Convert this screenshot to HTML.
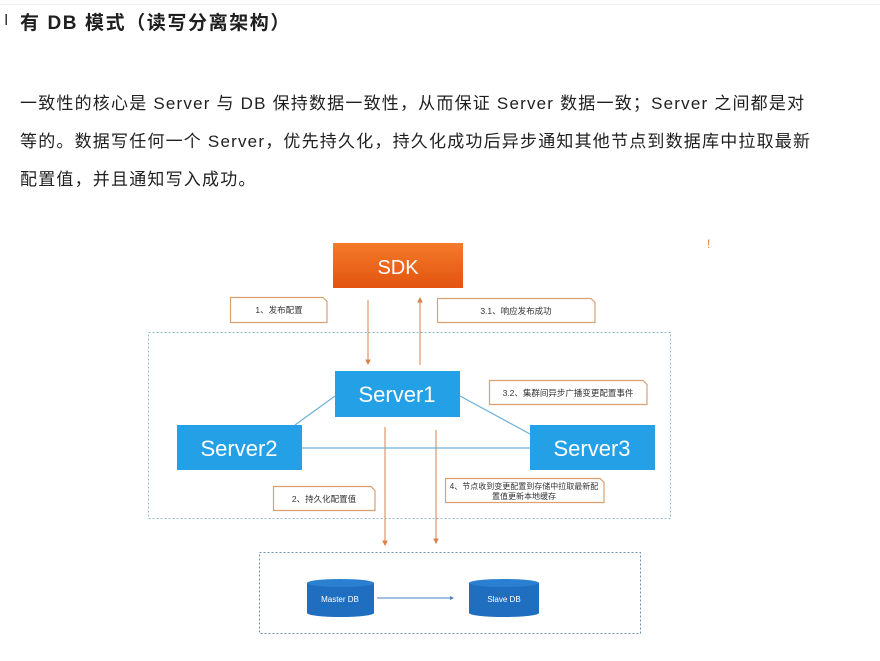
<!DOCTYPE html>
<html><head><meta charset="utf-8"><style>
body{margin:0;width:880px;height:661px;background:#fff;position:relative;overflow:hidden;font-family:"Liberation Sans","Noto Sans CJK SC",sans-serif;color:#1f1f1f}
.t{position:absolute;white-space:nowrap}
.p{font-size:17px;letter-spacing:1.2px;left:20px}
</style></head><body>
<div style="position:absolute;left:0;top:4px;width:880px;height:1px;background:#eee"></div>
<div class="t" style="left:4px;top:12px;font-size:16px;color:#333">I</div>
<div class="t" style="left:20px;top:8px;font-size:19px;font-weight:bold;letter-spacing:1.6px">有 DB 模式（读写分离架构）</div>
<div class="t p" style="top:89px">一致性的核心是 Server 与 DB 保持数据一致性，从而保证 Server 数据一致；Server 之间都是对</div>
<div class="t p" style="top:127px">等的。数据写任何一个 Server，优先持久化，持久化成功后异步通知其他节点到数据库中拉取最新</div>
<div class="t p" style="top:165px">配置值，并且通知写入成功。</div>
<svg width="880" height="661" style="position:absolute;left:0;top:0" font-family="Liberation Sans,Noto Sans CJK SC,sans-serif">
<defs><linearGradient id="o" x1="0" y1="0" x2="0" y2="1"><stop offset="0" stop-color="#f47a2a"/><stop offset="1" stop-color="#e2540f"/></linearGradient></defs>
<text x="707" y="248" fill="#f08030" font-size="12">!</text>
<rect x="148.5" y="332.5" width="522" height="186" fill="none" stroke="#8fc2d8" stroke-dasharray="2,2"/>
<rect x="259.5" y="552.5" width="381" height="81" fill="none" stroke="#6f8fb0" stroke-dasharray="2,2"/>
<rect x="333" y="243" width="130" height="45" fill="url(#o)"/>
<text x="398" y="274" fill="#fff" font-size="20" text-anchor="middle">SDK</text>
<g fill="#fff" stroke="#d9a070" stroke-width="1.2">
<path d="M230.5 297.5H323l4 4V322.5H230.5Z"/>
<path d="M437.5 298.5H591l4 4V322.5H437.5Z"/>
<path d="M489.5 380.5H643l4 4V404.5H489.5Z"/>
<path d="M273.5 486.5H371l4 4V510.5H273.5Z"/>
<path d="M445.5 478.5H600l4 4V502.5H445.5Z"/>
</g>
<g font-size="8.5" fill="#333" text-anchor="middle">
<text x="279" y="313">1、发布配置</text>
<text x="516" y="314">3.1、响应发布成功</text>
<text x="568" y="396">3.2、集群间异步广播变更配置事件</text>
<text x="324" y="502">2、持久化配置值</text>
</g>
<g font-size="8" fill="#333" text-anchor="middle">
<text x="524" y="489">4、节点收到变更配置到存储中拉取最新配</text>
<text x="524" y="499">置值更新本地缓存</text>
</g>
<g stroke="#d9824a" stroke-width="1" fill="#d9824a">
<line x1="368" y1="300" x2="368" y2="362"/><path d="M366 360h4l-2 4z"/>
<line x1="420" y1="302" x2="420" y2="365"/><path d="M418 302h4l-2 -4z"/>
<line x1="385" y1="427" x2="385" y2="542"/><path d="M383 541h4l-2 4z"/>
<line x1="436" y1="430" x2="436" y2="540"/><path d="M434 539h4l-2 4z"/>
</g>
<g stroke="#6fb0d8" stroke-width="1.2">
<line x1="335" y1="396" x2="295" y2="425"/>
<line x1="460" y1="396" x2="530" y2="434"/>
<line x1="302" y1="448" x2="530" y2="448"/>
</g>
<rect x="335" y="371" width="125" height="46" fill="#24a0e6"/>
<rect x="177" y="425" width="125" height="45" fill="#24a0e6"/>
<rect x="530" y="425" width="125" height="45" fill="#24a0e6"/>
<g fill="#fff" font-size="22" text-anchor="middle">
<text x="397" y="402">Server1</text>
<text x="239" y="456">Server2</text>
<text x="592" y="456">Server3</text>
</g>
<g fill="#1f6ec0">
<rect x="307" y="583" width="67" height="30"/><ellipse cx="340.5" cy="613" rx="33.5" ry="4"/><ellipse cx="340.5" cy="583" rx="33.5" ry="4" fill="#2a7fd0"/>
<rect x="469" y="583" width="70" height="30"/><ellipse cx="504" cy="613" rx="35" ry="4"/><ellipse cx="504" cy="583" rx="35" ry="4" fill="#2a7fd0"/>
</g>
<g fill="#fff" font-size="8" text-anchor="middle"><text x="340" y="602">Master DB</text><text x="504" y="602">Slave DB</text></g>
<line x1="377" y1="598" x2="450" y2="598" stroke="#4a80c0"/><path d="M450 596l4 2-4 2z" fill="#4a80c0"/>
</svg>
</body></html>
